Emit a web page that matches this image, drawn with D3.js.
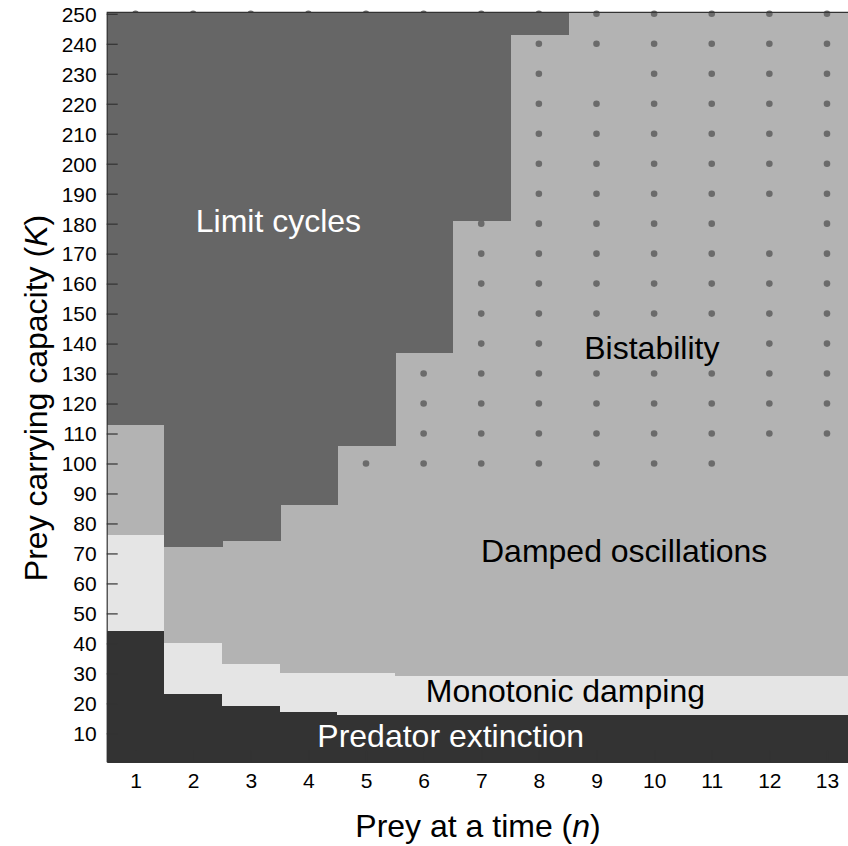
<!DOCTYPE html>
<html>
<head>
    <title>Predator-prey regimes</title>
    <style>
        body { margin: 0; background: #fff; }
        svg { display: block; background: #fff; }
        text { font-family: "Liberation Sans", Arial, sans-serif; }
        rect { shape-rendering: crispEdges; }
        .tick text { font-size: 21px; fill: #000; }
        .tick line, .domain { stroke: #333; stroke-width: 1.2px; }
        .title { font-size: 32px; fill: #000; }
        .region-label { font-size: 32px; }
    </style>
    <script src="https://d3js.org/d3.v7.min.js"></script>
</head>
<body>
    <svg width="848" height="846"></svg>
    <script>
        // prey at a time (n)
        const nValues = [1, 2, 3, 4, 5, 6, 7, 8, 9, 10, 11, 12, 13];
        // upper K of each regime per column (K at which the next regime starts)
        const extinctionTop = [44, 23, 19, 17, 16, 16, 16, 16, 16, 16, 16, 16, 16];
        const monotonicTop  = [76, 40, 33, 30, 30, 29, 29, 29, 29, 29, 29, 29, 29];
        const dampedTop     = [113, 72, 74, 86, 106, 137, 181, 243, 250.5, 250.5, 250.5, 250.5, 250.5];
        // K values with a bistability marker, per n
        const bistableK = [
            [250],
            [250],
            [250],
            [250],
            [100, 250],
            [100, 110, 120, 130, 250],
            [100, 110, 120, 130, 140, 150, 160, 170, 180, 250],
            [100, 110, 120, 130, 140, 150, 160, 170, 180, 190, 200, 210, 220, 230, 240, 250],
            [100, 110, 120, 130, 150, 160, 170, 180, 190, 200, 210, 220, 240, 250],
            [100, 110, 120, 130, 150, 160, 170, 180, 190, 200, 210, 220, 230, 240, 250],
            [100, 110, 120, 130, 150, 160, 170, 180, 190, 200, 210, 220, 230, 240, 250],
            [110, 120, 130, 140, 150, 160, 170, 190, 200, 210, 220, 230, 240, 250],
            [110, 120, 130, 140, 150, 160, 170, 180, 190, 200, 210, 220, 230, 240, 250]
        ];
        const kTicks = [10, 20, 30, 40, 50, 60, 70, 80, 90, 100, 110, 120, 130, 140, 150,
                        160, 170, 180, 190, 200, 210, 220, 230, 240, 250];
        const regionLabels = [
            { text: "Limit cycles", n: 3.48, k: 177.3, color: "#fff" },
            { text: "Bistability", n: 9.96, k: 134.7, color: "#000" },
            { text: "Damped oscillations", n: 9.48, k: 67.1, color: "#000" },
            { text: "Monotonic damping", n: 8.46, k: 20.4, color: "#000" },
            { text: "Predator extinction", n: 6.47, k: 5.5, color: "#fff" }
        ];

        const colors = {
            extinction: "#333333",
            monotonic: "#e5e5e5",
            damped: "#b3b3b3",
            limit: "#666666",
            dot: "#6b6b6b"
        };

        const svg = d3.select("svg");

        const x = d3.scaleLinear().domain([0.5, 13.5]).range([106.7, 855.8]);
        const y = d3.scaleLinear().domain([0.5, 250.5]).range([761.8, 12.3]);

        // one record per column
        const cols = nValues.map((n, i) => ({
            n: n,
            bands: [
                { lo: 0.5, hi: extinctionTop[i], c: colors.extinction },
                { lo: extinctionTop[i], hi: monotonicTop[i], c: colors.monotonic },
                { lo: monotonicTop[i], hi: dampedTop[i], c: colors.damped }
            ],
            limit: { lo: dampedTop[i], hi: 250.5 },
            dots: bistableK[i]
        }));

        const plot = svg.append("g");

        // lower regimes
        plot.selectAll(".col")
            .data(cols)
            .enter()
            .append("g")
            .attr("class", "col")
            .selectAll("rect")
            .data(d => d.bands.map(b => Object.assign({ n: d.n }, b)))
            .enter()
            .append("rect")
            .attr("x", d => x(d.n - 0.5))
            .attr("width", d => x(d.n + 0.5) - x(d.n - 0.5) + 1)
            .attr("y", d => y(d.hi))
            .attr("height", d => y(d.lo) - y(d.hi))
            .attr("fill", d => d.c);

        // bistability markers
        const dots = [];
        cols.forEach(c => c.dots.forEach(k => dots.push({ n: c.n, k: k })));
        plot.selectAll(".dot")
            .data(dots)
            .enter()
            .append("circle")
            .attr("class", "dot")
            .attr("cx", d => x(d.n))
            .attr("cy", d => y(d.k))
            .attr("r", 3.3)
            .attr("fill", colors.dot);

        // limit cycle regime on top
        plot.selectAll(".limit")
            .data(cols.filter(c => c.limit.lo < c.limit.hi))
            .enter()
            .append("rect")
            .attr("class", "limit")
            .attr("x", d => x(d.n - 0.5))
            .attr("width", d => x(d.n + 0.5) - x(d.n - 0.5) + 1)
            .attr("y", d => y(d.limit.hi))
            .attr("height", d => y(d.limit.lo) - y(d.limit.hi))
            .attr("fill", colors.limit);

        // region labels
        svg.selectAll(".region-label")
            .data(regionLabels)
            .enter()
            .append("text")
            .attr("class", "region-label")
            .attr("x", d => x(d.n))
            .attr("y", d => y(d.k))
            .attr("text-anchor", "middle")
            .attr("fill", d => d.color)
            .text(d => d.text);

        // frame line at top
        svg.append("line")
            .attr("x1", x(0.5)).attr("x2", x(13.5))
            .attr("y1", y(250.5)).attr("y2", y(250.5))
            .attr("stroke", "#333").attr("stroke-width", 1.2);

        // axes, ticks pointing inward
        svg.append("g")
            .attr("transform", `translate(${x(0.5)},0)`)
            .call(d3.axisLeft(y).tickValues(kTicks).tickSizeInner(-11).tickSizeOuter(0).tickPadding(10))
            .call(g => g.selectAll(".tick text").attr("dy", "0.35em"));

        svg.append("g")
            .attr("transform", `translate(0,${y(0.5)})`)
            .call(d3.axisBottom(x).tickValues(nValues).tickFormat(d3.format("d"))
                .tickSizeInner(-11).tickSizeOuter(0).tickPadding(11));

        // axis titles
        const xt = svg.append("text")
            .attr("class", "title")
            .attr("x", 478)
            .attr("y", 836.7)
            .attr("text-anchor", "middle");
        xt.append("tspan").text("Prey at a time (");
        xt.append("tspan").attr("font-style", "italic").text("n");
        xt.append("tspan").text(")");

        const yt = svg.append("text")
            .attr("class", "title")
            .attr("transform", `translate(47,398) rotate(-90)`)
            .attr("text-anchor", "middle");
        yt.append("tspan").text("Prey carrying capacity (");
        yt.append("tspan").attr("font-style", "italic").text("K");
        yt.append("tspan").text(")");
    </script>
</body>
</html>
